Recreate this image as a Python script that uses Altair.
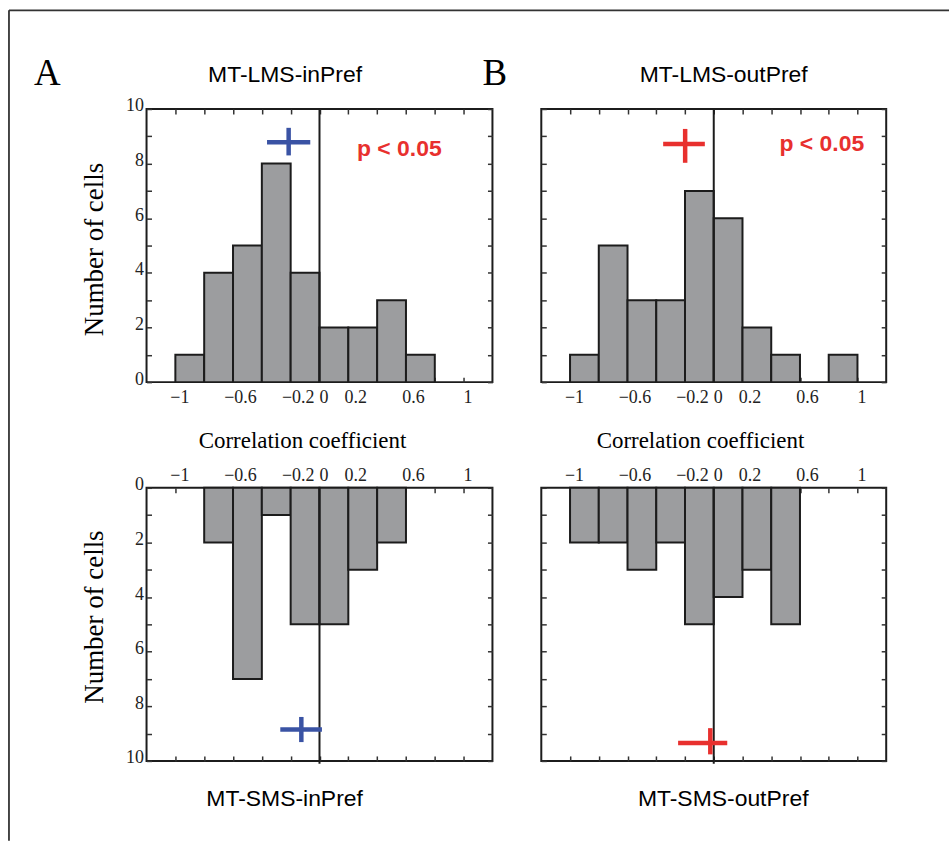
import altair as alt
import pandas as pd

# Histogram bins (correlation coefficient) and cell counts per condition
bin_edges = [-1.0, -0.8, -0.6, -0.4, -0.2, 0.0, 0.2, 0.4, 0.6, 0.8, 1.0]
counts_lms_in = [1, 4, 5, 8, 4, 2, 2, 3, 1, 0]
counts_lms_out = [1, 5, 3, 3, 7, 6, 2, 1, 0, 1]
counts_sms_in = [0, 2, 7, 1, 5, 5, 3, 2, 0, 0]
counts_sms_out = [2, 2, 3, 2, 5, 4, 3, 5, 0, 0]

# Mean markers: horizontal bar extent and level, vertical bar position and extent
cross_x_lo = [-0.364, -0.352, -0.272, -0.248]
cross_x_hi = [-0.064, -0.062, 0.017, 0.094]
cross_y = [8.78, 8.72, 8.85, 9.34]
cross_vx = [-0.214, -0.199, -0.126, -0.024]
cross_vy_lo = [8.30, 8.03, 8.39, 8.80]
cross_vy_hi = [9.31, 9.27, 9.31, 9.76]
cross_colors = ["#3a53a4", "#e8302e", "#3a53a4", "#e8302e"]

panel_titles = ["MT-LMS-inPref", "MT-LMS-outPref", "MT-SMS-inPref", "MT-SMS-outPref"]
panel_letters = ["A", "B"]
p_labels = ["p < 0.05", "p < 0.05"]
p_x = [0.554, 0.752]
p_y = [8.27, 8.45]

x_ticks = [-1.0, -0.8, -0.6, -0.4, -0.2, 0.0, 0.2, 0.4, 0.6, 0.8, 1.0]
x_labelled = ["-1", "-0.6", "-0.2", "0", "0.2", "0.6", "1"]
y_ticks = [0, 1, 2, 3, 4, 5, 6, 7, 8, 9, 10]
x_title = "Correlation coefficient"
y_title = "Number of cells"

SERIF = "Liberation Serif"
SANS = "Liberation Sans"
INK = "#222222"
W_LEFT, W_RIGHT, H = 347, 346, 274
TICK = 5

x_label_expr = (
    "indexof([" + ",".join("'" + s + "'" for s in x_labelled) + "], "
    "replace(format(datum.value, '.1~f'), '\u2212', '-')) >= 0"
    " ? replace(replace(format(datum.value, '.1~f'), '\u2212', '-'), '-', '\u2212') : ''"
)
y_label_expr = "datum.value % 2 == 0 ? datum.label : ''"


def x_axis(orient, labels):
    kw = dict(
        orient=orient, values=x_ticks, tickSize=TICK, offset=-TICK, tickWidth=1.5,
        tickColor="#333333", domain=False, grid=False, labels=labels,
    )
    if labels:
        kw.update(
            labelExpr=x_label_expr, labelFont=SERIF, labelFontSize=18, labelColor=INK,
            labelOverlap=False, labelPadding=6 if orient == "bottom" else 3,
            labelOffset={"condition": {"test": "abs(datum.value) == 1 || datum.value == 0",
                                       "value": 4}, "value": 7},
        )
    return alt.Axis(**kw)


def y_axis(orient, labels):
    kw = dict(
        orient=orient, values=y_ticks, tickSize=TICK, offset=-TICK, tickWidth=1.5,
        tickColor="#333333", domain=False, grid=False, labels=labels,
    )
    if labels:
        kw.update(
            labelExpr=y_label_expr, labelFont=SERIF, labelFontSize=18, labelColor=INK,
            labelOverlap=False, labelPadding=3, labelOffset=-3,
        )
    return alt.Axis(**kw)


def text_at(label, x, y, font, size, angle=0, align="center", weight="normal"):
    df = pd.DataFrame({"label": [label]})
    kw = dict(font=font, fontSize=size, color="black", align=align,
              baseline="alphabetic", fontWeight=weight)
    if angle:
        kw["angle"] = angle
    return alt.Chart(df).mark_text(**kw).encode(
        x=alt.value(x), y=alt.value(y), text="label:N"
    )


def panel(i, counts, width, top_row, y_labels, extras):
    xs = alt.Scale(domain=[-1.2, 1.2], nice=False, zero=False)
    ys = alt.Scale(domain=[0, 10], nice=False, zero=False, reverse=not top_row)

    bars_df = pd.DataFrame({"lo": bin_edges[:-1], "hi": bin_edges[1:], "n": counts})
    bars_df = bars_df[bars_df["n"] > 0]
    bars = alt.Chart(bars_df).mark_rect(
        fill="#9c9d9f", stroke="#1c1c1c", strokeWidth=2
    ).encode(
        x=alt.X("lo:Q", scale=xs, title=None,
                axis=x_axis("bottom" if top_row else "top", True)),
        x2="hi:Q",
        y=alt.Y("n:Q", scale=ys, title=None, axis=y_axis("left", y_labels)),
        y2=alt.datum(0),
    )

    zero_df = pd.DataFrame({"x": [0.0], "y0": [0.0], "y1": [10.0 if top_row else 10.1]})
    zero = alt.Chart(zero_df).mark_rule(color="#1c1c1c", strokeWidth=2).encode(
        x=alt.X("x:Q", scale=xs, title=None,
                axis=x_axis("top" if top_row else "bottom", False)),
        y=alt.Y("y0:Q", scale=ys, title=None, axis=y_axis("right", False)),
        y2="y1:Q",
    )

    cross_df = pd.DataFrame({
        "lo": [cross_x_lo[i]], "hi": [cross_x_hi[i]], "y": [cross_y[i]],
        "vx": [cross_vx[i]], "vlo": [cross_vy_lo[i]], "vhi": [cross_vy_hi[i]],
    })
    color = cross_colors[i]
    cross_h = alt.Chart(cross_df).mark_rule(color=color, strokeWidth=4.5).encode(
        x=alt.X("lo:Q", scale=xs, axis=None), x2="hi:Q",
        y=alt.Y("y:Q", scale=ys, axis=None),
    )
    cross_v = alt.Chart(cross_df).mark_rule(color=color, strokeWidth=4.5).encode(
        x=alt.X("vx:Q", scale=xs, axis=None),
        y=alt.Y("vlo:Q", scale=ys, axis=None), y2="vhi:Q",
    )

    layers = [bars, zero, cross_h, cross_v]
    if top_row:
        p_df = pd.DataFrame({"label": [p_labels[i]], "x": [p_x[i]], "y": [p_y[i]]})
        layers.append(
            alt.Chart(p_df).mark_text(
                font=SANS, fontSize=23, fontWeight="bold", color="#e8302e",
                align="center", baseline="alphabetic",
            ).encode(
                x=alt.X("x:Q", scale=xs, axis=None),
                y=alt.Y("y:Q", scale=ys, axis=None),
                text="label:N",
            )
        )
    layers = extras[0] + layers + extras[1]
    return alt.layer(*layers).resolve_axis(x="independent", y="independent").properties(
        width=width, height=H
    )


# Page frame and an invisible full-page extent (in top-left panel coordinates)
frame_df = pd.DataFrame({"k": [0]})
page_extent = alt.Chart(frame_df).mark_rect(fill="white", opacity=0).encode(
    x=alt.value(-146), x2=alt.value(805), y=alt.value(-107), y2=alt.value(734)
)
frame_left = alt.Chart(frame_df).mark_rule(color="#333333", strokeWidth=1.8).encode(
    x=alt.value(-138), y=alt.value(-99), y2=alt.value(734)
)
frame_top = alt.Chart(frame_df).mark_rule(color="#333333", strokeWidth=1.8).encode(
    x=alt.value(-138), x2=alt.value(805), y=alt.value(-99)
)

tl = panel(0, counts_lms_in, W_LEFT, True, True, (
    [page_extent, frame_left, frame_top],
    [
        text_at(panel_letters[0], -113, -24, SERIF, 37, align="left"),
        text_at(panel_titles[0], 139, -27, SANS, 23),
        text_at(x_title, 156.5, 340.5, SERIF, 23),
        text_at(y_title, -44, 141, SERIF, 27, angle=270),
    ],
))
tr = panel(1, counts_lms_out, W_RIGHT, True, False, (
    [],
    [
        text_at(panel_letters[1], -59, -24, SERIF, 37, align="left"),
        text_at(panel_titles[1], 183, -27, SANS, 23),
        text_at(x_title, 159.7, 340.5, SERIF, 23),
    ],
))
bl = panel(2, counts_sms_in, W_LEFT, False, True, (
    [],
    [
        text_at(panel_titles[2], 138.5, 319, SANS, 23),
        text_at(y_title, -44, 129.7, SERIF, 27, angle=270),
    ],
))
br = panel(3, counts_sms_out, W_RIGHT, False, False, (
    [],
    [text_at(panel_titles[3], 182.5, 319, SANS, 23)],
))

chart = alt.ConcatChart(
    concat=[tl, tr, bl, br],
    columns=2,
    spacing={"row": 106, "column": 49},
    bounds="flush",
).properties(
    padding=0, background="white"
).configure_view(
    stroke="#1c1c1c", strokeWidth=2
).configure_axis(grid=False)

chart.save("out.html", embed_options={"renderer": "svg", "actions": False})
